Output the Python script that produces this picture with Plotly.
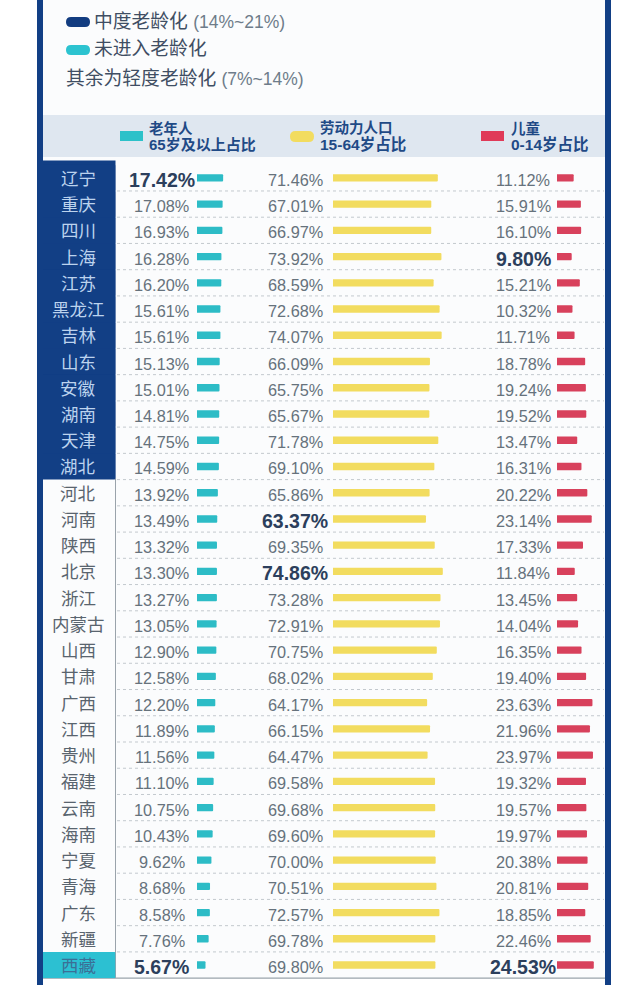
import plotly.graph_objects as go

W, H = 640, 985
FONT = "Liberation Sans, Noto Sans CJK SC, sans-serif"

provinces = ["辽宁","重庆","四川","上海","江苏","黑龙江","吉林","山东","安徽","湖南","天津","湖北",
             "河北","河南","陕西","北京","浙江","内蒙古","山西","甘肃","广西","江西","贵州","福建",
             "云南","海南","宁夏","青海","广东","新疆","西藏"]
elderly = [17.42,17.08,16.93,16.28,16.20,15.61,15.61,15.13,15.01,14.81,14.75,14.59,
           13.92,13.49,13.32,13.30,13.27,13.05,12.90,12.58,12.20,11.89,11.56,11.10,
           10.75,10.43,9.62,8.68,8.58,7.76,5.67]
labour = [71.46,67.01,66.97,73.92,68.59,72.68,74.07,66.09,65.75,65.67,71.78,69.10,
          65.86,63.37,69.35,74.86,73.28,72.91,70.75,68.02,64.17,66.15,64.47,69.58,
          69.68,69.60,70.00,70.51,72.57,69.78,69.80]
children = [11.12,15.91,16.10,9.80,15.21,10.32,11.71,18.78,19.24,19.52,13.47,16.31,
            20.22,23.14,17.33,11.84,13.45,14.04,16.35,19.40,23.63,21.96,23.97,19.32,
            19.57,19.97,20.38,20.81,18.85,22.46,24.53]
stage = ["mid"]*12 + ["light"]*18 + ["none"]

NAVY, TEAL, YELLOW, RED = "#123f85", "#2dbcc6", "#f2dc5f", "#d8415c"
TXT, BOLD = "#66727c", "#2c3f5c"
STAGE_FILL = {"mid": NAVY, "light": "rgba(255,255,255,0)", "none": "#2cc0d2"}
STAGE_TEXT = {"mid": "#bcd3ee", "light": "#59646e", "none": "#3b6f96"}

def px(x): return x / W
def py(y): return 1 - y / H
def xdom(a, b): return [px(a), px(b)]

TOP, BOTTOM = 162.85, 978.15
fig = go.Figure()
# (axis suffix, domain px, origin px, px/unit, label centre px, values, colour)
cols = [("2", 120, 258, 197, 1.5, 161.5, elderly, TEAL),
        ("3", 258, 460, 333, 1.467, 295, labour, YELLOW),
        ("4", 470, 604, 557, 1.5, 523, children, RED)]

fig.add_trace(go.Bar(y=provinces, x=[1]*31, orientation="h", width=1, xaxis="x", yaxis="y",
                     marker=dict(color=[STAGE_FILL[s] for s in stage], line_width=0),
                     hoverinfo="skip", showlegend=False))
annots = []
for p, s in zip(provinces, stage):
    annots.append(dict(x=0.5, y=p, xref="x", yref="y", yshift=-1, xshift=-1, text=p, showarrow=False,
                       font=dict(size=17.5, color=STAGE_TEXT[s])))

layout_axes = {"xaxis": dict(domain=xdom(43, 115.5), range=[0, 1], visible=False, anchor="y")}
for suf, a, b, o, k, c, vals, col in cols:
    fig.add_trace(go.Bar(y=provinces, x=vals, orientation="h", width=0.28, xaxis="x"+suf, yaxis="y",
                         marker=dict(color=col, line_width=0), hoverinfo="skip", showlegend=False))
    layout_axes["xaxis"+suf] = dict(domain=xdom(a, b), range=[(a-o)/k, (b-o)/k], visible=False, anchor="y")
    bold = {i for i, v in enumerate(vals) if v in (max(vals), min(vals))}
    for i, (p, v) in enumerate(zip(provinces, vals)):
        annots.append(dict(x=(c-o)/k, y=p, xref="x"+suf, yref="y", yshift=-2, showarrow=False,
                           text=f"<b>{v:.2f}%</b>" if i in bold else f"{v:.2f}%",
                           font=dict(size=19.5 if i in bold else 16.3, color=BOLD if i in bold else TXT)))

def rect(x0, y0, x1, y1, color, layer="below"):
    return dict(type="rect", xref="paper", yref="paper", x0=px(x0), x1=px(x1), y0=py(y0), y1=py(y1),
                fillcolor=color, line_width=0, layer=layer)

def pill(x0, y0, x1, y1, color):
    r = (y1 - y0) / 2
    path = (f"M {px(x0+r)} {py(y0)} L {px(x1-r)} {py(y0)} Q {px(x1)} {py(y0)} {px(x1)} {py(y0+r)} "
            f"Q {px(x1)} {py(y1)} {px(x1-r)} {py(y1)} L {px(x0+r)} {py(y1)} "
            f"Q {px(x0)} {py(y1)} {px(x0)} {py(y0+r)} Q {px(x0)} {py(y0)} {px(x0+r)} {py(y0)} Z")
    return dict(type="path", xref="paper", yref="paper", path=path, fillcolor=color, line_width=0)

shapes = [
    rect(43, 0, 605, 978, "#fbfcfd"),
    rect(43, 115, 605, 157, "#dfe7f0"),
    rect(37, 0, 43, 985, NAVY, "above"),
    rect(605, 0, 611, 985, NAVY, "above"),
    rect(43, 160.5, 115.5, 478, NAVY),
    rect(115, 478, 116, 978, "#9aa3ab"),
    rect(43, 977.5, 605, 978.7, "#9aa3ab"),
    pill(66, 17, 90, 27, "#123c80"),
    pill(66, 45, 90, 55, "#2cc3d0"),
    rect(120, 131, 143, 141, "#2cc1c9"),
    pill(290, 131, 314, 142, "#f2dc5f"),
    rect(481, 131, 504, 141, "#e03a58"),
]
for i in range(30):
    shapes.append(dict(type="line", xref="paper", yref="y", x0=px(117), x1=px(604), y0=i+0.5, y1=i+0.5,
                       line=dict(color="#c3c9ce", width=1, dash="dot"), layer="below"))

def label(x, y, text, size, color):
    return dict(x=px(x), y=py(y), xref="paper", yref="paper", xanchor="left", yanchor="middle",
                text=text, showarrow=False, font=dict(size=size, color=color))

LEG = "#3f4e63"
SUB = "<span style='color:#6e7c8a;font-size:17.5px'>{}</span>"
annots += [
    label(92, 22, "中度老龄化 " + SUB.format("(14%~21%)"), 18.8, LEG),
    label(92, 49, "未进入老龄化", 18.8, LEG),
    label(64, 79, "其余为轻度老龄化 " + SUB.format("(7%~14%)"), 18.8, LEG),
    label(147, 128, "<b>老年人</b>", 14.5, "#1f4a86"),
    label(147, 144, "<b>65岁及以上占比</b>", 15, "#1f4a86"),
    label(318, 128, "<b>劳动力人口</b>", 14.5, "#1f4a86"),
    label(318, 144, "<b>15-64岁占比</b>", 15.5, "#1f4a86"),
    label(509, 128, "<b>儿童</b>", 14.5, "#1f4a86"),
    label(509, 144, "<b>0-14岁占比</b>", 15.5, "#1f4a86"),
]

fig.update_layout(
    width=W, height=H, margin=dict(l=0, r=0, t=0, b=0, pad=0),
    paper_bgcolor="#ffffff", plot_bgcolor="rgba(0,0,0,0)", barcornerradius=1,
    font=dict(family=FONT), showlegend=False, barmode="overlay",
    yaxis=dict(domain=[py(BOTTOM), py(TOP)], type="category", categoryorder="array",
               categoryarray=provinces, autorange="reversed", visible=False),
    shapes=shapes, annotations=annots, **layout_axes,
)
fig.write_html("out.html", config={"displayModeBar": False},
               post_script="document.body.style.margin='0';document.documentElement.style.overflow='hidden';")
